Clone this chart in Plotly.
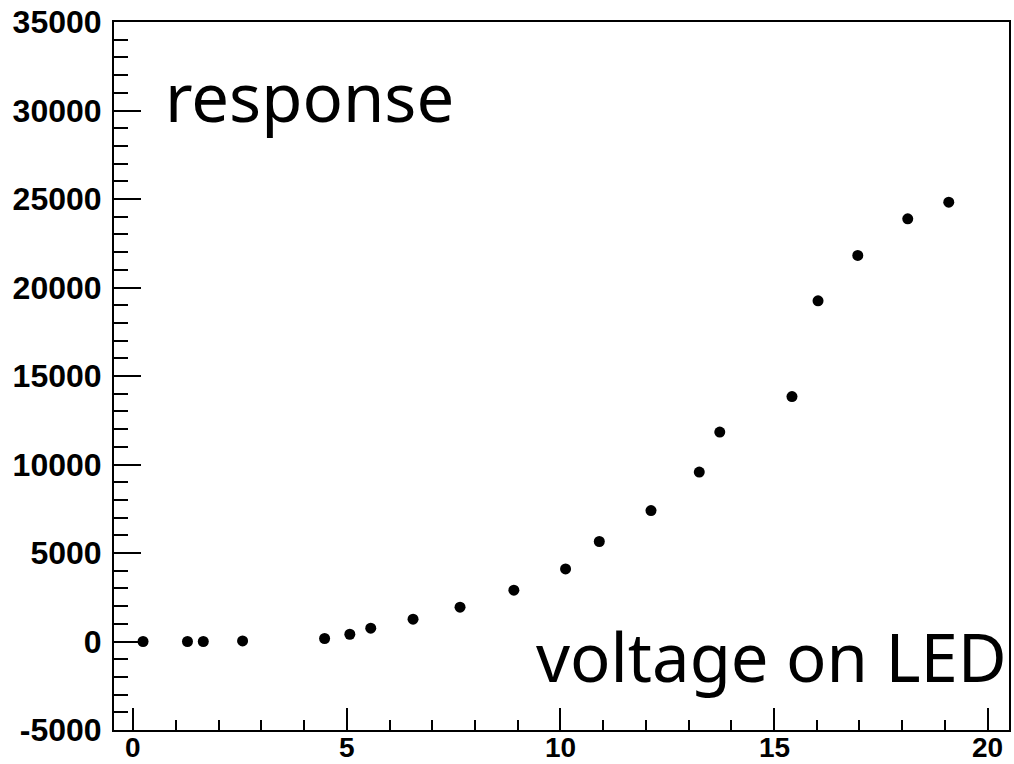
import plotly.graph_objects as go

# LED drive voltage and measured response
voltage = [0.23, 1.27, 1.64, 2.56, 4.48, 5.07, 5.56, 6.55, 7.65, 8.91,
           10.12, 10.91, 12.12, 13.25, 13.73, 15.42, 16.03, 16.96, 18.13, 19.09]
response = [0, 0, 0, 30, 170, 410, 750, 1260, 1940, 2900,
            4100, 5650, 7400, 9570, 11830, 13840, 19250, 21810, 23880, 24820]

x_ticks = [0, 5, 10, 15, 20]
y_ticks = [-5000, 0, 5000, 10000, 15000, 20000, 25000, 30000, 35000]
y_tick_text = ["-5000", "0", "5000", "10000", "15000", "20000", "25000", "30000", "35000"]

x_range = [-0.45, 20.5]
y_range = [-5000, 35000]

W, H = 1014, 764
L, R, T, B = 114, 5, 22, 34
pw, ph = W - L - R, H - T - B

fig = go.Figure(go.Scatter(
    x=voltage, y=response, mode="markers",
    marker=dict(color="black", size=11),
    showlegend=False,
))

axis_common = dict(
    showgrid=False, zeroline=False, automargin=False,
    showline=True, linecolor="black", linewidth=2, mirror=True,
    ticks="inside", tickcolor="black", tickwidth=2,
)

fig.update_xaxes(range=x_range, tickvals=x_ticks, ticklen=22,
                 showticklabels=False,
                 minor=dict(ticks="inside", dtick=1, tick0=0, ticklen=10,
                            tickcolor="black", tickwidth=2),
                 **axis_common)
fig.update_yaxes(range=y_range, tickvals=y_ticks, ticktext=y_tick_text,
                 ticklen=27,
                 tickfont=dict(family="Liberation Sans, Arial, sans-serif",
                               size=32, color="black", weight="bold"),
                 ticklabelstandoff=4,
                 minor=dict(ticks="inside", dtick=1000, tick0=0, ticklen=14,
                            tickcolor="black", tickwidth=2),
                 **axis_common)

# x tick labels sit tight against the bottom edge of the canvas
x_label_font = dict(family="Liberation Sans, Arial, sans-serif", size=28,
                    color="black", weight="bold")
for v in x_ticks:
    fig.add_annotation(text=str(v), x=v, xref="x", y=0, yref="paper",
                       xanchor="center", yanchor="top", yshift=-1,
                       showarrow=False, font=x_label_font,
                       borderpad=0)

label_font = dict(family="Noto Sans, sans-serif", size=67, color="black")
fig.add_annotation(text="response", xref="paper", yref="paper",
                   x=(163 - L) / pw, y=1 - (96 - T) / ph,
                   xanchor="left", yanchor="middle", showarrow=False,
                   font=label_font)
fig.add_annotation(text="voltage on LED", xref="paper", yref="paper",
                   x=(534 - L) / pw, y=1 - (656 - T) / ph,
                   xanchor="left", yanchor="middle", showarrow=False,
                   font=label_font)

fig.update_layout(
    width=W, height=H,
    margin=dict(l=L, r=R, t=T, b=B),
    paper_bgcolor="white", plot_bgcolor="white",
)

fig.write_html("out.html")
